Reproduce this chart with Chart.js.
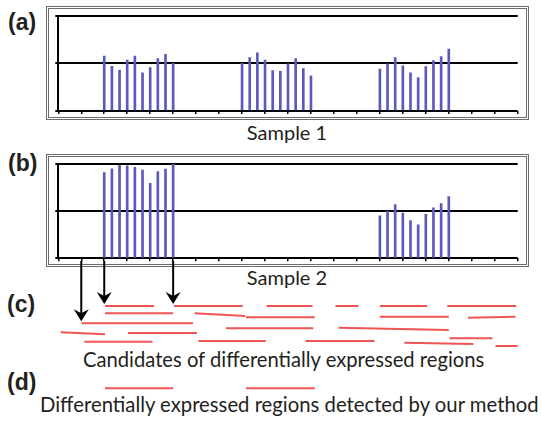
<!DOCTYPE html>
<html lang="en">
<head>
<meta charset="UTF-8" />
<title>Differentially expressed regions</title>
<script src="https://cdn.jsdelivr.net/npm/chart.js"></script>
<style>
  body { margin: 0; background: white; width: 541px; height: 421px; position: relative; overflow: hidden; font-family: Lato, sans-serif; color: #231f20; }
  .box { position: absolute; box-sizing: border-box; border: 3px double #6d6d6d; }
  .tag { position: absolute; font-family: "Liberation Sans", Arial, sans-serif; font-weight: bold; font-size: 23px; line-height: 1; }
  .txt { position: absolute; line-height: 1; white-space: nowrap; }
  canvas { position: absolute; left: 0; }
</style>
</head>
<body>
  <div class="box" style="left:46px; top:6px; width:483px; height:114px;"></div>
  <div class="box" style="left:46px; top:154px; width:483px; height:113px;"></div>

  <div class="tag" style="left:8px; top:11px;">(a)</div>
  <div class="tag" style="left:8px; top:152px;">(b)</div>
  <div class="tag" style="left:7px; top:293px;">(c)</div>
  <div class="tag" style="left:7px; top:371px;">(d)</div>

  <div class="txt" style="left:187px; width:200px; text-align:center; top:122px; font-size:20px;">Sample 1</div>
  <div class="txt" style="left:187px; width:200px; text-align:center; top:267px; font-size:20px;">Sample 2</div>
  <div class="txt" style="left:83px; top:348.5px; font-size:20.2px;">Candidates of differentially expressed regions</div>
  <div class="txt" style="left:40px; top:393.5px; font-size:20.3px;">Differentially expressed regions detected by our method</div>

  <canvas id="sample1" width="541" height="120" style="top:0px;"></canvas>
  <canvas id="sample2" width="541" height="130" style="top:140px;"></canvas>
  <canvas id="cand" width="541" height="90" style="top:261px;"></canvas>
  <canvas id="found" width="541" height="25" style="top:375px;"></canvas>

<script>
  // genome positions of the read-count bars (x axis runs 0..60, a tick every 3)
  const positions = [6, 7, 8, 9, 10, 11, 12, 13, 14, 15,
                     24, 25, 26, 27, 28, 29, 30, 31, 32, 33,
                     42, 43, 44, 45, 46, 47, 48, 49, 50, 51];
  const sample1 = [1.15, 0.94, 0.86, 1.07, 1.15, 0.80, 0.91, 1.10, 1.19, 1.00,
                   1.00, 1.12, 1.22, 1.07, 0.85, 0.83, 0.99, 1.10, 0.89, 0.74,
                   0.88, 0.99, 1.12, 0.95, 0.80, 0.70, 0.93, 1.06, 1.14, 1.30];
  const sample2 = [1.82, 1.90, 1.97, 1.96, 1.93, 1.87, 1.59, 1.84, 1.89, 2.00,
                   null, null, null, null, null, null, null, null, null, null,
                   0.90, 1.00, 1.14, 0.96, 0.80, 0.71, 0.93, 1.07, 1.16, 1.31];

  // candidate regions: start, end and lane (lane at start / at end)
  const candStart = [6.1, 15.1, 27.2, 36.2, 42.0, 50.8, 6.1, 17.8, 24.5, 42.0, 53.5,
                     3.05, 21.9, 36.6, 0.3, 9.1, 51.1, 3.4, 18.3, 32.3, 45.2, 57.1];
  const candEnd   = [12.5, 24.1, 33.2, 39.2, 48.2, 59.8, 15.0, 24.4, 33.5, 51.0, 59.7,
                     17.6, 33.3, 51.0, 6.1, 18.1, 56.7, 12.3, 27.1, 41.3, 54.2, 60.0];
  const candLaneA = [0, 0, 0, 0, 0, 0, 7.3, 7.3, 11.3, 10.7, 11.7,
                     17.3, 22.3, 21.7, 26.3, 27, 32.3, 35.7, 35, 35, 36.7, 40];
  const candLaneB = [0, 0, 0, 0, 0, 0, 7.3, 10, 11.3, 10.7, 10.7,
                     17.3, 22.3, 24, 28.3, 27, 32.3, 35.7, 35, 35, 38, 40];

  // arrows from sample 2 down to the candidate they start
  const arrowPos  = [3, 6, 15];
  const arrowLane = [17.3, 0, 0];

  // regions kept by the method
  const foundStart = [6.1, 24.5];
  const foundEnd   = [15.0, 33.5];

  const BAR = '#5a5abd';
  const RED = '#ef5454';
  const PAD_L = 55.3, PAD_R = 23.3;

  function sampleChart(id, values, top, bottom) {
    new Chart(document.getElementById(id), {
      type: 'bar',
      data: {
        datasets: [{
          data: positions.map((x, i) => ({ x: x, y: values[i] })),
          backgroundColor: BAR,
          barThickness: 2,
          borderWidth: 0
        }]
      },
      options: {
        responsive: false,
        animation: false,
        events: [],
        layout: { padding: { left: PAD_L, right: PAD_R, top: top, bottom: bottom } },
        plugins: { legend: { display: false }, tooltip: { enabled: false } },
        scales: {
          x: {
            type: 'linear', min: 0, max: 60, offset: false,
            ticks: { stepSize: 3, display: false },
            grid: { drawOnChartArea: false, offset: false, color: '#000', lineWidth: 1.5, tickLength: 3 },
            border: { display: false },
            afterFit: s => { s.height = 3; }
          },
          y: {
            min: 0, max: 2,
            ticks: { stepSize: 1, display: false },
            grid: { color: '#000', lineWidth: 2, tickLength: 3 },
            border: { color: '#000', width: 2 },
            afterFit: s => { s.width = 3; }
          }
        }
      }
    });
  }

  sampleChart('sample1', sample1, 15.7, 6);
  sampleChart('sample2', sample2, 24, 8.7);

  const arrowPlugin = {
    id: 'arrows',
    afterDatasetsDraw(chart) {
      const ctx = chart.ctx;
      const x = chart.scales.x, y = chart.scales.y;
      ctx.save();
      ctx.fillStyle = '#000';
      ctx.strokeStyle = '#000';
      ctx.lineWidth = 2;
      arrowPos.forEach((u, i) => {
        const px = x.getPixelForValue(u);
        const tip = y.getPixelForValue(arrowLane[i]) - 2;
        ctx.beginPath();
        ctx.moveTo(px, 0);
        ctx.lineTo(px, tip - 8);
        ctx.stroke();
        ctx.beginPath();
        ctx.moveTo(px, tip);
        ctx.lineTo(px - 7.5, tip - 12);
        ctx.lineTo(px, tip - 8);
        ctx.lineTo(px + 7.5, tip - 12);
        ctx.closePath();
        ctx.fill();
      });
      ctx.restore();
    }
  };

  function segmentOptions(top, bottom, maxLane) {
    return {
      responsive: false,
      animation: false,
      events: [],
      layout: { padding: { left: PAD_L + 3, right: PAD_R, top: top, bottom: bottom } },
      plugins: { legend: { display: false }, tooltip: { enabled: false } },
      scales: {
        x: { type: 'linear', min: 0, max: 60, display: false },
        y: { type: 'linear', min: 0, max: maxLane, reverse: true, display: false }
      }
    };
  }

  function segments(starts, ends, laneA, laneB) {
    return starts.map((s, i) => ({
      data: [{ x: s, y: laneA[i] }, { x: ends[i], y: laneB[i] }],
      showLine: true,
      borderColor: RED,
      borderWidth: 2,
      pointRadius: 0,
      clip: false
    }));
  }

  new Chart(document.getElementById('cand'), {
    type: 'scatter',
    data: { datasets: segments(candStart, candEnd, candLaneA, candLaneB) },
    options: segmentOptions(45, 5, 40),
    plugins: [arrowPlugin]
  });

  new Chart(document.getElementById('found'), {
    type: 'scatter',
    data: { datasets: segments(foundStart, foundEnd, [0, 0], [0, 0]) },
    options: segmentOptions(13.3, 1.7, 1)
  });
</script>
</body>
</html>
